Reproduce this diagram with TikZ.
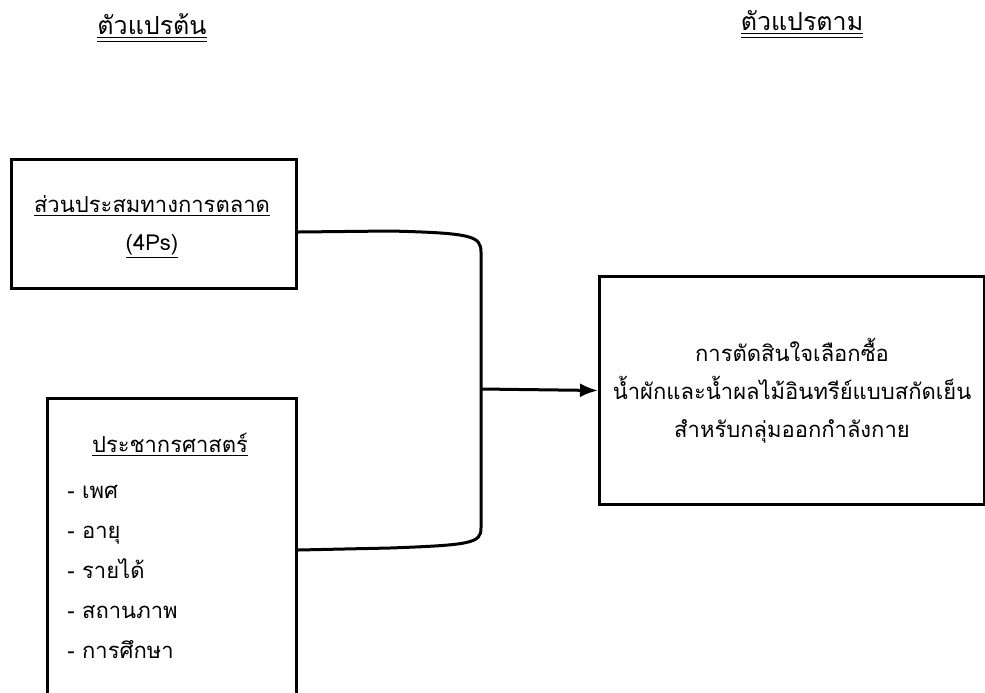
\documentclass[tikz,border=0pt]{standalone}
\usepackage{fontspec}
\newfontfamily\thaifont[Script=Thai]{Loma}
\usetikzlibrary{arrows.meta,positioning,calc}

\begin{document}
\begin{tikzpicture}[x=0.5pt,y=-0.5pt,>=Latex, every node/.style={font=\thaifont\fontsize{11}{19}\selectfont}]
\tikzstyle{box}=[draw,line width=1.5pt,inner sep=0pt,anchor=north west]
\tikzstyle{head}=[align=center]
\tikzstyle{item}=[anchor=base west,inner sep=0pt]
\tikzstyle{link}=[line width=1.5pt]
\useasboundingbox (0,0) rectangle (985,692);
% column titles
\node[head,font=\thaifont\fontsize{12.5}{19}\selectfont] (indep) at (152,28) {\underline{\underline{ตัวแปรต้น}}};
\node[head,font=\thaifont\fontsize{12.5}{19}\selectfont] (dep) at (802,25) {\underline{\underline{ตัวแปรตาม}}};
% independent variables
\node[box,minimum width=142.5pt,minimum height=64.5pt] (mix) at (10,158) {};
\node[head] (mixtext) at (152,227) {\underline{ส่วนประสมทางการตลาด}\\[0pt]\underline{(4Ps)}};
\node[box,minimum width=124.5pt,minimum height=170pt] (demo) at (46,397) {};
\node[head] (demohead) at (170,445) {\underline{ประชากรศาสตร์}};
\foreach \t [count=\i] in {เพศ,อายุ,รายได้,สถานภาพ,การศึกษา}
  \node[item] (d\i) at (67,458+40*\i) {- \t};
% dependent variable
\node[box,minimum width=192.5pt,minimum height=114pt] (buy) at (598,275) {};
\node[head] (buytext) at (buy.center) {การตัดสินใจเลือกซื้อ\\น้ำผักและน้ำผลไม้อินทรีย์แบบสกัดเย็น\\สำหรับกลุ่มออกกำลังกาย};
% bracket joining both boxes
\coordinate (jn) at (481,389);
\draw[link] ([yshift=-4pt]mix.east) -- (390,231) .. controls (472,233) and (481,236) .. (481,252)
  -- (481,528) .. controls (481,543) and (472,545) .. (390,548) -- (demo.east |- 0,550);
\draw[line width=1.5pt,-{Latex[length=9pt,width=7pt]}] (jn) -- (buy.west);
\end{tikzpicture}
\end{document}
